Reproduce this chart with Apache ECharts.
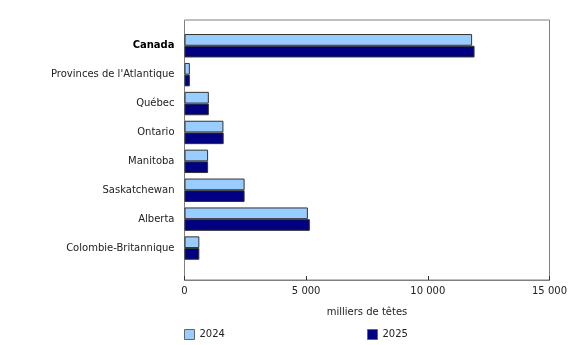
<!DOCTYPE html>
<html>
<head>
<meta charset="utf-8">
<script src="https://cdn.jsdelivr.net/npm/echarts@6/dist/echarts.min.js"></script>
<style>
  html, body { margin: 0; padding: 0; background: #fff; }
  #main { width: 580px; height: 345px; }
</style>
</head>
<body>
<div id="main"></div>
<script>
// regions, top to bottom
var regions = ['Canada', 'Provinces de l\'Atlantique', 'Québec', 'Ontario', 'Manitoba',
  'Saskatchewan', 'Alberta', 'Colombie-Britannique']
// milliers de têtes
var values2024 = [11820, 220, 1000, 1600, 970, 2470, 5070, 610]
var values2025 = [11920, 220, 1000, 1610, 970, 2470, 5150, 610]
var xTicks = [0, 5000, 10000, 15000]

var chartDom = document.getElementById('main')
var myChart = echarts.init(chartDom)

var font = 'DejaVu Sans, Verdana, sans-serif'
var fmt = function (v) {
  return String(v).replace(/\B(?=(\d{3})+(?!\d))/g, ' ')
}

var option = {
  animation: false,
  textStyle: { fontFamily: font },
  legend: [
    {
      data: ['2024'],
      left: 179, top: 324,
      icon: 'rect',
      itemWidth: 10, itemHeight: 10,
      itemGap: 5,
      itemStyle: { borderColor: '#666', borderWidth: 1 },
      textStyle: { fontFamily: font, fontSize: 10, color: '#222' },
    },
    {
      data: ['2025'],
      left: 362, top: 324,
      icon: 'rect',
      itemWidth: 10, itemHeight: 10,
      itemStyle: { borderColor: '#666', borderWidth: 1 },
      textStyle: { fontFamily: font, fontSize: 10, color: '#222' },
    },
  ],
  grid: [
    // outer box
    { left: 184.5, right: 30.5, top: 20, bottom: 65, show: true, borderColor: '#808080', borderWidth: 1 },
    // bar area
    { left: 184.5, right: 30.5, top: 31.3, bottom: 82.5 },
  ],
  xAxis: [
    {
      gridIndex: 0,
      type: 'value',
      min: xTicks[0], max: xTicks[xTicks.length - 1], interval: 5000,
      name: 'milliers de têtes',
      nameLocation: 'middle',
      nameGap: 27,
      nameTextStyle: { fontFamily: font, fontSize: 10, color: '#222' },
      axisLine: { show: true, lineStyle: { color: '#808080' } },
      axisTick: { show: true, inside: true, length: 4, lineStyle: { color: '#333' } },
      axisLabel: { fontFamily: font, fontSize: 10, color: '#222', margin: 6, formatter: fmt },
      splitLine: { show: false },
    },
    {
      gridIndex: 1,
      type: 'value',
      min: xTicks[0], max: xTicks[xTicks.length - 1],
      show: false,
    },
  ],
  yAxis: [
    {
      gridIndex: 0,
      type: 'value',
      show: false,
    },
    {
      gridIndex: 1,
      type: 'category',
      inverse: true,
      data: regions,
      axisLine: { show: false },
      axisTick: { show: false },
      axisLabel: {
        fontFamily: font, fontSize: 10, color: '#222', margin: 10,
        formatter: function (v) { return v === 'Canada' ? '{b|' + v + '}' : v },
        rich: { b: { fontFamily: font, fontSize: 10, fontWeight: 'bold', color: '#000' } },
      },
    },
  ],
  series: [
    {
      name: '2024',
      type: 'bar',
      xAxisIndex: 1, yAxisIndex: 1,
      data: values2024,
      barCategoryGap: '19%',
      barGap: '0%',
      itemStyle: { color: '#99CCFF', borderColor: '#333', borderWidth: 1 },
    },
    {
      name: '2025',
      type: 'bar',
      xAxisIndex: 1, yAxisIndex: 1,
      data: values2025,
      barCategoryGap: '19%',
      barGap: '0%',
      itemStyle: { color: '#000080', borderColor: '#333', borderWidth: 1 },
    },
  ],
}

option && myChart.setOption(option)
</script>
</body>
</html>
